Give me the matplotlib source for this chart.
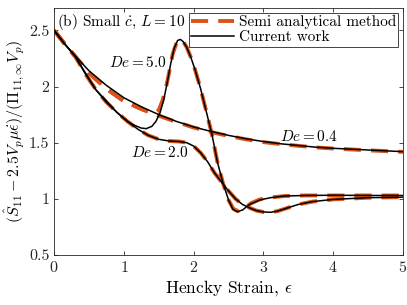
import numpy as np
import matplotlib
matplotlib.use("Agg")
import matplotlib.pyplot as plt

plt.rcParams['font.family'] = 'serif'
plt.rcParams['font.serif'] = ['cmr10']
plt.rcParams['mathtext.fontset'] = 'cm'
plt.rcParams['axes.formatter.use_mathtext'] = True

# --- datos ---
x_de04 = [0, 0.15, 0.3, 0.5, 0.75, 1.0, 1.25, 1.5, 1.75, 2.0, 2.25, 2.5, 2.75,
          3.0, 3.25, 3.5, 3.75, 4.0, 4.5, 5.0]
y_de04_cw = [2.5, 2.38, 2.275, 2.14, 2.01, 1.9, 1.82, 1.75, 1.69, 1.64, 1.6,
             1.565, 1.535, 1.51, 1.49, 1.475, 1.46, 1.45, 1.435, 1.42]
y_de04_sa = [2.5, 2.38, 2.27, 2.12, 1.98, 1.87, 1.8, 1.74, 1.685, 1.635, 1.595,
             1.56, 1.53, 1.505, 1.487, 1.472, 1.458, 1.448, 1.432, 1.418]

x_de2 = [0, 0.15, 0.3, 0.45, 0.6, 0.75, 0.9, 1.05, 1.2, 1.35, 1.5, 1.65, 1.8,
         1.9, 2.0, 2.1, 2.2, 2.3, 2.4, 2.5, 2.6, 2.7, 2.8, 2.9, 3.0, 3.1, 3.2,
         3.35, 3.5, 3.7, 4.0, 4.5, 5.0]
y_de2 = [2.5, 2.38, 2.27, 2.11, 1.97, 1.86, 1.77, 1.69, 1.62, 1.565, 1.53,
         1.515, 1.51, 1.5, 1.47, 1.41, 1.33, 1.23, 1.15, 1.07, 1.0, 0.95, 0.92,
         0.895, 0.883, 0.88, 0.89, 0.92, 0.95, 0.975, 0.995, 1.01, 1.015]

x_de5_cw = [0, 0.15, 0.3, 0.45, 0.6, 0.75, 0.9, 1.05, 1.15, 1.25, 1.32, 1.4,
            1.46, 1.52, 1.57, 1.62, 1.67, 1.72, 1.77, 1.81, 1.85, 1.9, 1.96,
            2.02, 2.1, 2.18, 2.26, 2.34, 2.42, 2.5, 2.56, 2.62, 2.7, 2.8, 2.95,
            3.1, 3.3, 3.6, 4.0, 4.5, 5.0]
y_de5_cw = [2.5, 2.38, 2.27, 2.12, 1.97, 1.87, 1.77, 1.69, 1.655, 1.63, 1.625,
            1.645, 1.69, 1.77, 1.88, 2.03, 2.2, 2.34, 2.41, 2.42, 2.4, 2.35,
            2.26, 2.15, 1.98, 1.78, 1.58, 1.33, 1.14, 0.99, 0.91, 0.885, 0.9,
            0.95, 0.99, 1.01, 1.025, 1.03, 1.032, 1.03, 1.03]

x_de5_sa = [0, 0.15, 0.3, 0.5, 0.75, 1.0, 1.25, 1.4, 1.45, 1.5, 1.55, 1.6,
            1.65, 1.7, 1.75, 1.8, 1.85, 1.9, 1.96, 2.02, 2.1, 2.18, 2.26, 2.34,
            2.42, 2.5, 2.57, 2.64, 2.72, 2.82, 2.95, 3.1, 3.3, 3.6, 4.0, 4.5, 5.0]
y_de5_sa = [2.5, 2.38, 2.27, 2.12, 1.98, 1.87, 1.8, 1.765, 1.765, 1.79, 1.87,
            1.98, 2.13, 2.29, 2.38, 2.42, 2.4, 2.35, 2.26, 2.15, 1.98, 1.78,
            1.58, 1.33, 1.14, 0.99, 0.91, 0.89, 0.91, 0.96, 0.995, 1.012,
            1.025, 1.03, 1.03, 1.03, 1.03]

naranja = '#D95319'

fig = plt.figure(figsize=(4.07, 3.05), dpi=100)
ax = fig.add_axes([0.133, 0.164, 0.857, 0.81])

estilo_sa = dict(color=naranja, lw=2.8, dashes=(4.4, 2.6))
estilo_cw = dict(color='black', lw=1.1)

ax.plot(x_de04, y_de04_sa, **estilo_sa, label='Semi analytical method')
ax.plot(x_de2, y_de2, **estilo_sa)
ax.plot(x_de5_sa, y_de5_sa, **estilo_sa)
ax.plot(x_de04, y_de04_cw, **estilo_cw, label='Current work')
ax.plot(x_de2, y_de2, **estilo_cw)
ax.plot(x_de5_cw, y_de5_cw, **estilo_cw)

ax.text(1.62, 2.21, r'$De = 5.0$', ha='right', va='center', fontsize=11)
ax.text(1.52, 1.41, r'$De = 2.0$', ha='center', va='center', fontsize=11)
ax.text(3.66, 1.555, r'$De = 0.4$', ha='center', va='center', fontsize=11)
ax.text(0.04, 2.66, r'(b) Small $\dot{c}$, $L = 10$', ha='left', va='top', fontsize=11)

ax.set_xlim(0, 5)
ax.set_ylim(0.5, 2.7)
ax.set_xticks([0, 1, 2, 3, 4, 5])
ax.set_yticks([0.5, 1, 1.5, 2, 2.5])
ax.set_yticklabels(['0.5', '1', '1.5', '2', '2.5'])
ax.tick_params(direction='in', top=True, right=True, labelsize=11.5,
               length=3, width=0.6, colors='#262626')
for s in ax.spines.values():
    s.set_color('#262626')
    s.set_linewidth(0.6)

ax.set_xlabel(r'Hencky Strain, $\epsilon$', fontsize=12.5, labelpad=2)
ax.set_ylabel(r'$(\hat{S}_{11} - 2.5V_p\mu\dot{\epsilon})/(\Pi_{11,\infty}V_p)$',
              fontsize=11.5, labelpad=2)

leg = ax.legend(loc='upper right', fontsize=11, handlelength=2.8, borderpad=0.15,
                labelspacing=0.1, handletextpad=0.3, borderaxespad=0.3,
                fancybox=False, framealpha=1)
leg.get_frame().set_edgecolor('#262626')
leg.get_frame().set_linewidth(0.6)

fig.savefig('out.png', dpi=100)
